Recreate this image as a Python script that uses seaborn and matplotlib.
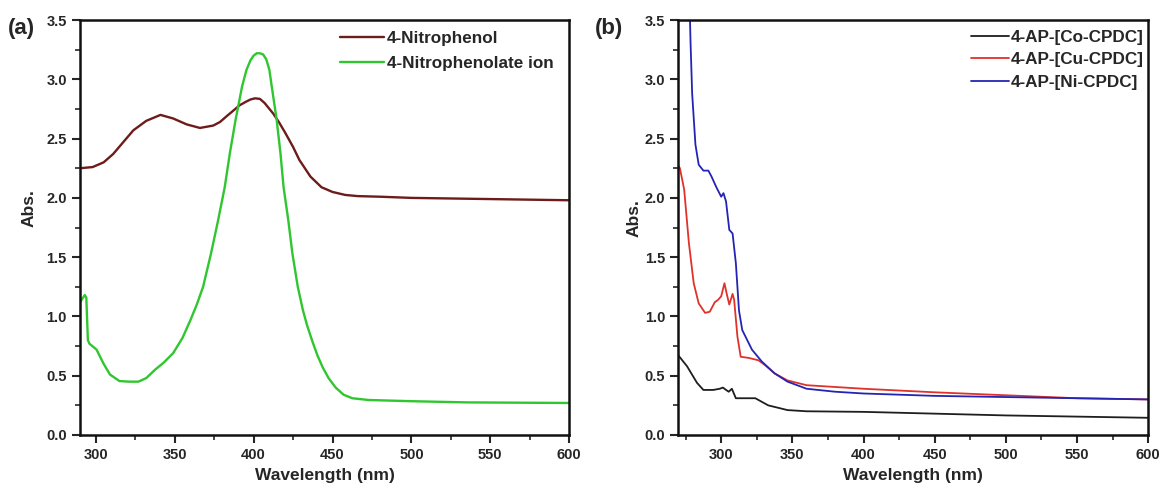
import numpy as np
import pandas as pd
import matplotlib
matplotlib.use("Agg")
import matplotlib.pyplot as plt
from matplotlib.ticker import MultipleLocator
import seaborn as sns

# panel (a) spectra
np_wl = [290, 298, 305, 311, 317.4, 323.8, 332, 341, 349, 357.6, 366, 374.4, 378.7, 383, 387.5, 391, 395,
         398, 401, 404, 407, 412.5, 416, 420, 425, 429, 436, 443, 450, 458, 466, 480, 500, 550, 600]
np_abs = [2.25, 2.26, 2.30, 2.37, 2.47, 2.57, 2.65, 2.70, 2.67, 2.62, 2.59, 2.61, 2.64, 2.69, 2.74, 2.78, 2.81,
          2.83, 2.84, 2.835, 2.80, 2.71, 2.64, 2.55, 2.43, 2.32, 2.18, 2.09, 2.05, 2.025, 2.015, 2.01, 2.00,
          1.99, 1.98]

npo_wl = [290, 291.5, 293, 294, 295, 296, 300.5, 305, 309, 315, 321, 327, 332, 337.5, 343, 349, 355, 360,
          364, 368, 373, 377.5, 381.7, 385, 388.6, 392.7, 395.5, 398, 400, 402, 404, 406, 408, 410, 411.5,
          414.6, 417, 419, 422, 424.6, 428, 431.3, 434, 437.5, 440.5, 443.8, 447.5, 452, 457, 462.5, 473,
          500, 535, 600]
npo_abs = [1.12, 1.15, 1.18, 1.16, 0.80, 0.77, 0.72, 0.60, 0.51, 0.455, 0.45, 0.45, 0.48, 0.55, 0.61, 0.69,
           0.82, 0.97, 1.10, 1.25, 1.53, 1.81, 2.09, 2.38, 2.66, 2.94, 3.08, 3.16, 3.20, 3.22, 3.22, 3.21,
           3.17, 3.08, 2.94, 2.66, 2.38, 2.09, 1.81, 1.53, 1.25, 1.05, 0.92, 0.78, 0.67, 0.57, 0.48, 0.40,
           0.34, 0.31, 0.295, 0.285, 0.275, 0.27]

# panel (b) spectra
co_wl = [270, 276, 283, 287.5, 294.4, 299, 301.2, 303.4, 305.3, 307.5, 310.3, 314.8, 324, 333, 346.6, 360,
         400, 450, 500, 550, 600]
co_abs = [0.67, 0.58, 0.44, 0.38, 0.38, 0.39, 0.40, 0.38, 0.365, 0.39, 0.31, 0.31, 0.31, 0.25, 0.21, 0.20,
          0.195, 0.18, 0.165, 0.155, 0.145]

cu_wl = [270, 271, 274, 277.3, 280.7, 284.2, 288.7, 292, 295.5, 297.8, 300, 302.3, 303.9, 305.7, 308, 309.1,
         311.4, 313.7, 319.4, 326.2, 330.7, 337.5, 346.6, 360, 400, 450, 500, 550, 600]
cu_abs = [2.27, 2.25, 2.07, 1.62, 1.28, 1.11, 1.03, 1.04, 1.12, 1.14, 1.17, 1.28, 1.19, 1.10, 1.19, 1.14,
          0.83, 0.66, 0.65, 0.63, 0.59, 0.52, 0.46, 0.42, 0.39, 0.36, 0.335, 0.31, 0.30]

ni_wl = [276, 278.5, 279.6, 281.9, 284.2, 287.5, 291, 293.2, 296.6, 300, 301.6, 303.4, 305.7, 308, 310.3,
         312.5, 314.8, 321.6, 328.5, 337.5, 346.6, 360, 380, 400, 450, 500, 550, 600]
ni_abs = [4.5, 3.30, 2.88, 2.45, 2.28, 2.23, 2.23, 2.18, 2.09, 2.01, 2.04, 1.97, 1.73, 1.70, 1.45,
          1.05, 0.885, 0.72, 0.62, 0.52, 0.45, 0.39, 0.365, 0.35, 0.33, 0.32, 0.31, 0.30]

labels_a = ["4-Nitrophenol", "4-Nitrophenolate ion"]
labels_b = ["4-AP-[Co-CPDC]", "4-AP-[Cu-CPDC]", "4-AP-[Ni-CPDC]"]
colors_a = ["#6e1b1b", "#2fc62f"]
colors_b = ["#1e1e1e", "#e0322a", "#2424b4"]

df_a = pd.concat([
    pd.DataFrame({"wl": np_wl, "abs": np_abs, "sample": labels_a[0]}),
    pd.DataFrame({"wl": npo_wl, "abs": npo_abs, "sample": labels_a[1]}),
])
df_b = pd.concat([
    pd.DataFrame({"wl": co_wl, "abs": co_abs, "sample": labels_b[0]}),
    pd.DataFrame({"wl": cu_wl, "abs": cu_abs, "sample": labels_b[1]}),
    pd.DataFrame({"wl": ni_wl, "abs": ni_abs, "sample": labels_b[2]}),
])

sns.set_style("ticks")
plt.rcParams["font.family"] = ["Liberation Sans", "DejaVu Sans"]
plt.rcParams["font.weight"] = "bold"

fig = plt.figure(figsize=(11.61, 4.87), dpi=100)
ax1 = fig.add_axes([0.0689, 0.1068, 0.4214, 0.852])
ax2 = fig.add_axes([0.5844, 0.1068, 0.4046, 0.852])

sns.lineplot(data=df_a, x="wl", y="abs", hue="sample", palette=colors_a, linewidth=1.7, ax=ax1,
             estimator=None, sort=False)
sns.lineplot(data=df_b, x="wl", y="abs", hue="sample", palette=colors_b, linewidth=1.3, ax=ax2,
             estimator=None, sort=False)

# per-panel settings: x start, panel tag x, legend anchor/spacing/handle, ylabel pos
setup = [
    (ax1, 290, "(a)", 0.007, (0.982, 0.99), 0.58, 2.6, -0.088, 0.547),
    (ax2, 270, "(b)", 0.512, (1.006, 0.992), 0.42, 2.2, -0.078, 0.522),
]
for ax, xmin, panel, px, anchor, lspace, hlen, ylx, yly in setup:
    ax.set_xlim(xmin, 600)
    ax.set_ylim(0, 3.5)
    ax.xaxis.set_major_locator(MultipleLocator(50))
    ax.xaxis.set_minor_locator(MultipleLocator(25))
    ax.yaxis.set_major_locator(MultipleLocator(0.5))
    ax.yaxis.set_minor_locator(MultipleLocator(0.25))
    ax.yaxis.set_major_formatter(plt.FormatStrFormatter("%.1f"))
    ax.tick_params(which="major", direction="out", length=6, width=1.5, labelsize=10.5)
    ax.tick_params(which="minor", direction="out", length=3.5, width=1.2)
    for s in ax.spines.values():
        s.set_linewidth(1.8)
        s.set_color("#111111")
    for t in ax.get_xticklabels() + ax.get_yticklabels():
        t.set_fontweight("bold")
    ax.set_xlabel("Wavelength (nm)", fontsize=12.5, fontweight="bold", labelpad=4)
    ax.set_ylabel("Abs.", fontsize=12.5, fontweight="bold")
    ax.yaxis.set_label_coords(ylx, yly)
    leg = ax.legend(loc="upper right", bbox_to_anchor=anchor, frameon=False, fontsize=12.3,
                    handlelength=hlen, handletextpad=0.15, labelspacing=lspace, borderaxespad=0)
    for t in leg.get_texts():
        t.set_fontweight("bold")
    fig.text(px, 0.942, panel, fontsize=16, fontweight="bold", ha="left", va="center")

fig.savefig("out.png", dpi=100, facecolor="white")
